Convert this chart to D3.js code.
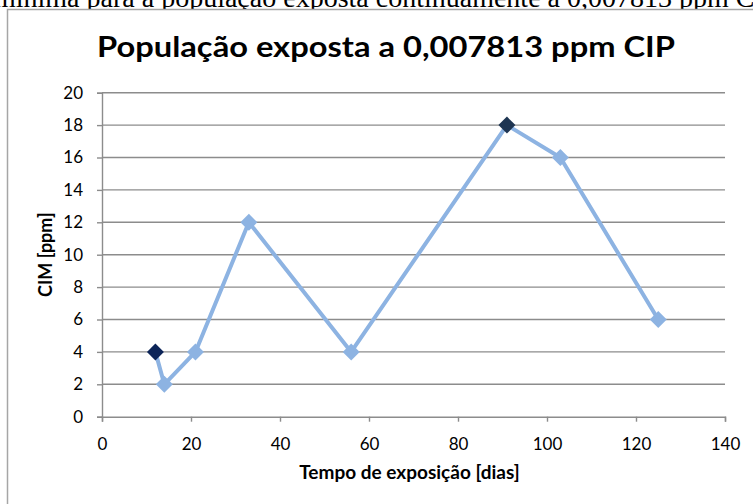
<!DOCTYPE html>
<html>
<head>
<meta charset="utf-8">
<script src="https://cdn.jsdelivr.net/npm/d3@7/dist/d3.min.js"></script>
<style>
  html, body { margin: 0; padding: 0; background: #fff; overflow: hidden; }
  svg { display: block; }
</style>
</head>
<body>
<script>
// Exposure time (days) and minimum inhibitory concentration (ppm)
const days = [12, 14, 21, 33, 56, 91, 103, 125];
const cim = [4, 2, 4, 12, 4, 18, 16, 6];
// Points drawn with a darker marker
const highlight = { 0: "#0c2458", 5: "#1e3552" };
const xTicks = [0, 20, 40, 60, 80, 100, 120, 140];
const yTicks = [0, 2, 4, 6, 8, 10, 12, 14, 16, 18, 20];

const W = 753, H = 504;
const FONT = "Lato, 'Open Sans', sans-serif";
const svg = d3.select("body").append("svg").attr("width", W).attr("height", H);

// Caption line of the surrounding document (sits above the chart, partly off the page top)
const captionLead = "Concentração inibitória ";
const captionRest = "mínima para a população exposta continuamente a 0,007813 ppm CIP";
const caption = svg.append("text")
  .attr("y", 7)
  .attr("font-family", "Liberation Serif, 'Times New Roman', serif")
  .attr("font-size", 28)
  .attr("fill", "#000");
const lead = caption.append("tspan").text(captionLead);
caption.append("tspan").text(captionRest);
const leadW = lead.node().getComputedTextLength();
caption.attr("x", -6 - leadW);

// Chart frame
svg.append("rect")
  .attr("x", 7.5).attr("y", 9.5)
  .attr("width", 800).attr("height", 600)
  .attr("fill", "#fff")
  .attr("stroke", "#a6a6a6").attr("stroke-width", 1.5);

const x = d3.scaleLinear().domain([0, 140]).range([102, 725]);
const y = d3.scaleLinear().domain([0, 20]).range([416.7, 92.7]);

// Horizontal gridlines
svg.append("g").selectAll("line").data(yTicks.filter(v => v > 0)).join("line")
  .attr("x1", x(0)).attr("x2", x(140))
  .attr("y1", d => y(d)).attr("y2", d => y(d))
  .attr("stroke", "#8c8c8c").attr("stroke-width", 1.4);

// Axes
const yAxis = svg.append("g").attr("transform", `translate(${x(0)},0)`)
  .call(d3.axisLeft(y).tickValues(yTicks).tickSize(5).tickPadding(14));
const xAxis = svg.append("g").attr("transform", `translate(0,${y(0)})`)
  .call(d3.axisBottom(x).tickValues(xTicks).tickSize(5).tickPadding(16));
[yAxis, xAxis].forEach(g => {
  g.select(".domain").attr("stroke", "#8c8c8c").attr("stroke-width", 1.4);
  g.selectAll(".tick line").attr("stroke", "#8c8c8c").attr("stroke-width", 1.4);
  g.selectAll(".tick text")
    .attr("font-family", FONT)
    .attr("font-size", 17).attr("fill", "#000");
});

// Title
svg.append("text")
  .attr("x", 97).attr("y", 57)
  .attr("font-family", FONT)
  .attr("font-weight", "bold").attr("font-size", 29)
  .attr("textLength", 578).attr("lengthAdjust", "spacingAndGlyphs")
  .attr("fill", "#000")
  .text("População exposta a 0,007813 ppm CIP");

// Axis titles
svg.append("text")
  .attr("transform", `translate(52,${y(10)}) rotate(-90)`)
  .attr("text-anchor", "middle")
  .attr("font-family", FONT)
  .attr("font-weight", "bold").attr("font-size", 18)
  .text("CIM [ppm]");
svg.append("text")
  .attr("x", (x(0) + x(140)) / 2 - 4).attr("y", 479)
  .attr("text-anchor", "middle")
  .attr("font-family", FONT)
  .attr("font-weight", "bold").attr("font-size", 19)
  .text("Tempo de exposição [dias]");

// Series line
const pts = days.map((d, i) => ({ d, v: cim[i], i }));
svg.append("path").datum(pts)
  .attr("fill", "none")
  .attr("stroke", "#8db3e2").attr("stroke-width", 4)
  .attr("stroke-linejoin", "round")
  .attr("d", d3.line().x(p => x(p.d)).y(p => y(p.v)));

// Diamond markers
const half = 6;
svg.append("g").selectAll("path").data(pts).join("path")
  .attr("transform", p => `translate(${x(p.d)},${y(p.v)}) rotate(45)`)
  .attr("d", `M${-half},${-half}H${half}V${half}H${-half}Z`)
  .attr("fill", p => highlight[p.i] || "#8db3e2");
</script>
</body>
</html>
